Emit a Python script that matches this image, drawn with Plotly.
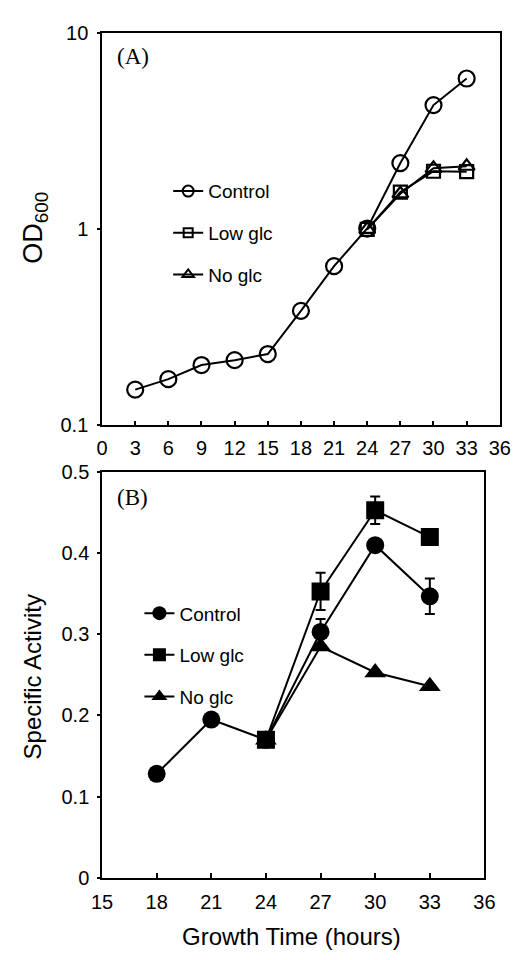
import plotly.graph_objects as go

W, H = 529, 960

# ---- Panel A data (OD600) ----
hours_a = [3, 6, 9, 12, 15, 18, 21, 24, 27, 30, 33]
od_control = [0.152, 0.172, 0.203, 0.215, 0.231, 0.384, 0.649, 1.01, 2.18, 4.31, 5.89]
hours_a_glc = [24, 27, 30, 33]
od_low = [1.0, 1.55, 1.98, 1.97]
od_no = [1.0, 1.52, 2.05, 2.10]

# ---- Panel B data (Specific activity) ----
hours_b = [18, 21, 24, 27, 30, 33]
sa_control = [0.128, 0.195, 0.170, 0.303, 0.410, 0.347]
sa_control_err = [0, 0, 0, 0.016, 0, 0.022]
hours_b_glc = [24, 27, 30, 33]
sa_low = [0.170, 0.353, 0.453, 0.420]
sa_low_err = [0, 0.023, 0.017, 0]
sa_no = [0.170, 0.285, 0.253, 0.236]

series_names = ["Control", "Low glc", "No glc"]
xticks_a = [0, 3, 6, 9, 12, 15, 18, 21, 24, 27, 30, 33, 36]
xticks_b = [15, 18, 21, 24, 27, 30, 33, 36]
yticks_b = [0, 0.1, 0.2, 0.3, 0.4, 0.5]

SANS = "Liberation Sans, Arial, sans-serif"
SERIF = "Liberation Serif, Times New Roman, serif"
BLACK = "#000000"

def px(x):
    return x / W

def py(y):
    return 1 - y / H

fig = go.Figure()
line = dict(color=BLACK, width=2)

# Panel A traces
a_series = [
    (hours_a, od_control, "circle-open", 16),
    (hours_a_glc, od_low, "square-open", 13),
    (hours_a_glc, od_no, "triangle-up-open", 14),
]
for (xs, ys, sym, sz) in a_series:
    fig.add_trace(go.Scatter(x=xs, y=ys, mode="lines+markers", line=line, showlegend=False,
                             marker=dict(symbol=sym, size=sz, color=BLACK, line=dict(width=2.2)),
                             xaxis="x", yaxis="y"))

# Panel B traces
b_series = [
    (hours_b, sa_control, sa_control_err, "circle", 18),
    (hours_b_glc, sa_low, sa_low_err, "square", 18),
    (hours_b_glc, sa_no, None, "triangle-up", 19),
]
for (xs, ys, err, sym, sz) in b_series:
    kw = {}
    if err is not None:
        kw["error_y"] = dict(type="data", array=err, color=BLACK, thickness=2, width=5)
    fig.add_trace(go.Scatter(x=xs, y=ys, mode="lines+markers", line=line, showlegend=False,
                             marker=dict(symbol=sym, size=sz, color=BLACK), xaxis="x2", yaxis="y2", **kw))

# Legend entries (legend-only traces with the legend's own marker size)
leg_a = [("circle-open", 11), ("square-open", 9), ("triangle-up-open", 10)]
for name, (sym, sz) in zip(series_names, leg_a):
    fig.add_trace(go.Scatter(x=[None], y=[None], name=name, mode="lines+markers",
                             line=dict(color=BLACK, width=2),
                             marker=dict(symbol=sym, size=sz, color=BLACK, line=dict(width=2)),
                             xaxis="x", yaxis="y", legend="legend", legendgroup="a" + name))
leg_b = [("circle", 14), ("square", 13), ("triangle-up", 14)]
for name, (sym, sz) in zip(series_names, leg_b):
    fig.add_trace(go.Scatter(x=[None], y=[None], name=name, mode="lines+markers",
                             line=dict(color=BLACK, width=2),
                             marker=dict(symbol=sym, size=sz, color=BLACK),
                             xaxis="x2", yaxis="y2", legend="legend2", legendgroup="b" + name))

axis_common = dict(showline=True, linecolor=BLACK, linewidth=1.5, mirror=True, showgrid=False,
                   zeroline=False, tickcolor=BLACK)
xfont = dict(family=SANS, size=20, color=BLACK)
yfont = dict(family=SANS, size=20, color=BLACK)

fig.update_layout(
    width=W, height=H,
    margin=dict(l=0, r=0, t=0, b=0),
    paper_bgcolor="white", plot_bgcolor="white",
    showlegend=True,
    xaxis=dict(domain=[px(95), px(510)], range=[0, 36], tickvals=xticks_a, ticks="inside", ticklen=5,
               tickwidth=1.5, anchor="y", tickfont=xfont, ticklabelstandoff=4, **axis_common),
    yaxis=dict(domain=[py(424), py(23)], type="log", range=[-1, 1], tickvals=[0.1, 1, 10],
               ticktext=["0.1", "1", "10"], ticks="outside", ticklen=3, tickwidth=1.5, anchor="x",
               tickfont=yfont, ticklabelstandoff=5, **axis_common),
    xaxis2=dict(domain=[px(95), px(494)], range=[15, 36], tickvals=xticks_b, ticks="inside", ticklen=5,
                tickwidth=1.5, anchor="y2", tickfont=xfont, ticklabelstandoff=6, **axis_common),
    yaxis2=dict(domain=[py(887), py(472)], range=[0, 0.5], tickvals=yticks_b,
                ticktext=["0", "0.1", "0.2", "0.3", "0.4", "0.5"], ticks="outside", ticklen=3,
                tickwidth=1.5, anchor="x2", tickfont=yfont, ticklabelstandoff=4, **axis_common),
    legend=dict(x=px(164), y=py(165), xanchor="left", yanchor="top", bgcolor="rgba(0,0,0,0)",
                font=dict(family=SANS, size=19, color=BLACK), tracegroupgap=14),
    legend2=dict(x=px(134), y=py(597), xanchor="left", yanchor="top", bgcolor="rgba(0,0,0,0)",
                 font=dict(family=SANS, size=19, color=BLACK), tracegroupgap=14),
    annotations=[
        dict(text="(A)", x=px(108), y=py(47), xref="paper", yref="paper", xanchor="left", yanchor="middle",
             showarrow=False, font=dict(family=SERIF, size=23, color=BLACK)),
        dict(text="(B)", x=px(108), y=py(498), xref="paper", yref="paper", xanchor="left", yanchor="middle",
             showarrow=False, font=dict(family=SERIF, size=23, color=BLACK)),
        dict(text="OD<sub>600</sub>", x=px(25), y=py(222), xref="paper", yref="paper", textangle=-90,
             xanchor="center", yanchor="middle", showarrow=False, font=dict(family=SANS, size=27, color=BLACK)),
        dict(text="Specific Activity", x=px(22), y=py(682), xref="paper", yref="paper", textangle=-90,
             xanchor="center", yanchor="middle", showarrow=False, font=dict(family=SANS, size=24, color=BLACK)),
        dict(text="Growth Time (hours)", x=px(293), y=py(947), xref="paper", yref="paper",
             xanchor="center", yanchor="middle", showarrow=False, font=dict(family=SANS, size=24, color=BLACK)),
    ],
)

fig.write_html("out.html")
